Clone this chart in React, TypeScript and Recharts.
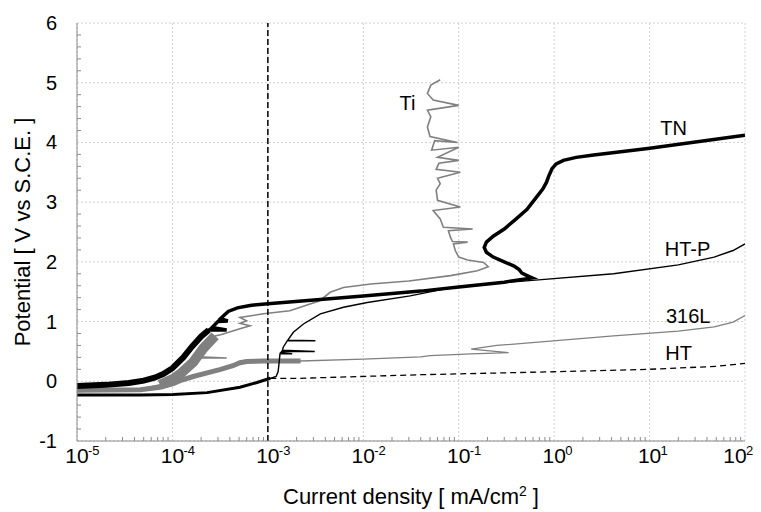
import { LineChart, Line, XAxis, YAxis, CartesianGrid, ReferenceLine, ReferenceDot } from "recharts";

// polarization curves, [current density mA/cm2, potential V vs SCE]
const tnCurve: [number, number][] = [
  [1e-5, -0.08], [2e-5, -0.06], [3.5e-5, -0.03], [5e-5, 0.01], [6.5e-5, 0.06], [8e-5, 0.12],
  [1e-4, 0.22], [1.3e-4, 0.4], [1.6e-4, 0.58], [2e-4, 0.75], [2.4e-4, 0.86], [3.7e-4, 0.86],
  [2.6e-4, 0.9], [3.0e-4, 1.0], [3.8e-4, 1.01], [3.2e-4, 1.05], [3.84e-4, 1.17], [4.8e-4, 1.23],
  [6.5e-4, 1.27], [1e-3, 1.3], [1e-2, 1.43], [0.04, 1.51], [0.1, 1.58], [0.3, 1.66], [0.59, 1.73],
  [0.52, 1.77], [0.46, 1.81], [0.43, 1.87], [0.38, 1.93], [0.3, 2.0], [0.23, 2.08], [0.195, 2.16],
  [0.185, 2.24], [0.195, 2.33], [0.23, 2.43], [0.3, 2.55], [0.4, 2.72], [0.52, 2.88], [0.65, 3.08],
  [0.76, 3.22], [0.83, 3.33], [0.88, 3.44], [0.95, 3.56], [1.05, 3.64], [1.25, 3.7], [1.7, 3.75],
  [2.6, 3.79], [9.6, 3.9], [100, 4.12],
];

const tiCurve: [number, number][] = [
  [1e-5, -0.15], [4.6e-5, -0.13], [7.4e-5, -0.06], [1.02e-4, 0.04], [1.2e-4, 0.12], [1.65e-4, 0.32],
  [1.8e-4, 0.39], [3.7e-4, 0.39], [1.85e-4, 0.41], [2.1e-4, 0.55], [2.8e-4, 0.76], [3.2e-4, 0.78],
  [5.1e-4, 0.88], [6.5e-4, 0.93], [5.1e-4, 0.97], [6.0e-4, 1.01], [5.1e-4, 1.07], [9e-4, 1.13],
  [1.7e-3, 1.18], [3.5e-3, 1.35], [4.5e-3, 1.49], [6.2e-3, 1.57], [0.012, 1.63], [0.03, 1.68],
  [0.082, 1.77], [0.157, 1.85], [0.204, 1.92], [0.182, 1.99], [0.124, 2.03], [0.1, 2.08],
  [0.092, 2.19], [0.088, 2.3], [0.124, 2.33], [0.086, 2.34], [0.082, 2.41], [0.078, 2.52],
  [0.14, 2.55], [0.069, 2.58], [0.064, 2.72], [0.054, 2.86], [0.104, 2.92], [0.06, 3.03],
  [0.058, 3.2], [0.064, 3.31], [0.06, 3.4], [0.104, 3.5], [0.058, 3.55], [0.062, 3.65], [0.1, 3.7],
  [0.06, 3.75], [0.1, 3.92], [0.052, 3.87], [0.056, 4.03], [0.097, 4.0], [0.05, 4.1], [0.047, 4.26],
  [0.051, 4.43], [0.047, 4.54], [0.1, 4.62], [0.054, 4.71], [0.047, 4.82], [0.051, 4.96], [0.064, 5.05],
];

const s316Curve: [number, number][] = [
  [1e-5, -0.15], [4.6e-5, -0.14], [7.4e-5, -0.1], [1.02e-4, -0.04], [1.2e-4, 0.01], [1.65e-4, 0.08],
  [2.31e-4, 0.14], [3.2e-4, 0.2], [4.3e-4, 0.26], [5.1e-4, 0.31], [6e-4, 0.33], [9e-4, 0.34],
  [2.2e-3, 0.34], [0.01, 0.37], [0.04, 0.41], [0.05, 0.43], [0.135, 0.46], [0.333, 0.48],
  [0.135, 0.54], [0.25, 0.6], [4.2, 0.76], [20, 0.84], [47.5, 0.91], [75, 0.99], [100, 1.1],
];

const htpCurve: [number, number][] = [
  [1e-5, -0.23], [4.6e-5, -0.23], [1.02e-4, -0.22], [2.31e-4, -0.19], [5.1e-4, -0.1], [7.7e-4, -0.02],
  [1.06e-3, 0.05], [1.22e-3, 0.08], [1.28e-3, 0.16], [1.31e-3, 0.3], [1.34e-3, 0.46], [1.8e-3, 0.46],
  [1.36e-3, 0.48], [1.4e-3, 0.5], [3.1e-3, 0.5], [1.42e-3, 0.52], [1.45e-3, 0.57], [1.6e-3, 0.68],
  [3.15e-3, 0.68], [1.62e-3, 0.69], [1.85e-3, 0.82], [2.36e-3, 0.96], [3.55e-3, 1.13], [6.2e-3, 1.24],
  [0.011, 1.32], [0.031, 1.43], [0.064, 1.53], [0.1, 1.58], [0.28, 1.65], [0.59, 1.69], [4.2, 1.8],
  [20, 1.95], [47.5, 2.08], [75, 2.19], [100, 2.3],
];

const htCathodic: [number, number][] = [
  [1e-5, -0.23], [4.6e-5, -0.23], [1.02e-4, -0.22], [2.31e-4, -0.19], [5.1e-4, -0.1], [7.7e-4, -0.02],
  [1.06e-3, 0.05],
];
const htAnodic: [number, number][] = [
  [1.06e-3, 0.05], [2.2e-3, 0.05], [0.015, 0.09], [0.04, 0.11], [1, 0.16], [9.6, 0.2], [50, 0.25],
  [100, 0.3],
];

const xMajorTicks = [1e-5, 1e-4, 1e-3, 1e-2, 1e-1, 1, 10, 100];
const xTickExponents = ["-5", "-4", "-3", "-2", "-1", "0", "1", "2"];
const yMajorTicks = [-1, 0, 1, 2, 3, 4, 5, 6];
const yTickLabels = ["-1", "0", "1", "2", "3", "4", "5", "6"];

const seriesLabels = [
  { name: "Ti", x: 0.029, y: 4.66 },
  { name: "TN", x: 17.9, y: 4.25 },
  { name: "HT-P", x: 25, y: 2.22 },
  { name: "316L", x: 25.4, y: 1.1 },
  { name: "HT", x: 20.2, y: 0.48 },
];

const toRows = (pts: [number, number][]) => pts.map(([x, y]) => ({ x, y }));

// minor ticks: 2..9 per decade on the bottom, 5 even steps per decade on top, 0.2 V on the sides
const xMinorTicks: number[] = [];
const xTopTicks: number[] = [];
for (let d = -5; d < 2; d++) {
  for (let m = 2; m <= 9; m++) xMinorTicks.push(m * Math.pow(10, d));
  for (let j = 1; j < 5; j++) xTopTicks.push(Math.pow(10, d + j / 5));
}
const yMinorTicks: number[] = [];
for (let i = -5; i <= 30; i++) if (i % 5 !== 0) yMinorTicks.push(i / 5);

const FONT = "'Liberation Sans', Arial, sans-serif";
const FRAME = "#8c8c8c";
const GRAY = "#808080";

const BottomTick = (props: any) => {
  const { x, y, payload } = props;
  const idx = xMajorTicks.findIndex((t) => Math.abs(Math.log10(t) - Math.log10(payload.value)) < 1e-6);
  if (idx < 0) return <line x1={x} x2={x} y1={y} y2={y - 4} stroke={FRAME} />;
  // last label is pulled in so it stays inside the picture
  const cx = idx === xMajorTicks.length - 1 ? x - 10 : x;
  return (
    <g fontFamily={FONT} fill="#000">
      <text x={cx} y={y + 22} textAnchor="middle" fontSize={21}>10</text>
      <text x={cx + 11} y={y + 14} fontSize={13}>{xTickExponents[idx]}</text>
    </g>
  );
};

const LeftTick = (props: any) => {
  const { x, y, payload } = props;
  const idx = yMajorTicks.indexOf(payload.value);
  if (idx < 0) return <line x1={x} x2={x + 4} y1={y} y2={y} stroke={FRAME} />;
  return (
    <text x={x - 20} y={y + 7} textAnchor="end" fontSize={20} fontFamily={FONT} fill="#000">
      {yTickLabels[idx]}
    </text>
  );
};

const RightTick = (props: any) => <line x1={props.x} x2={props.x - 4} y1={props.y} y2={props.y} stroke={FRAME} />;
const TopTick = (props: any) => <line x1={props.x} x2={props.x} y1={props.y} y2={props.y + 4} stroke={FRAME} />;

const XTitle = (props: any) => {
  const { x, y, width } = props.viewBox;
  return (
    <text x={x + width / 2} y={y + 63} textAnchor="middle" fontSize={22} fontFamily={FONT} fill="#000">
      Current density [ mA/cm<tspan dy={-8} fontSize={14}>2</tspan>
      <tspan dy={8}> ]</tspan>
    </text>
  );
};

const YTitle = (props: any) => {
  const { x, y, height } = props.viewBox;
  const cx = x + 30;
  const cy = y + height / 2;
  return (
    <text x={cx} y={cy} transform={`rotate(-90 ${cx} ${cy})`} textAnchor="middle" fontSize={22} fontFamily={FONT} fill="#000">
      Potential [ V vs S.C.E. ]
    </text>
  );
};

export default function App() {
  const tn = toRows(tnCurve);
  const ti = toRows(tiCurve);
  const s316 = toRows(s316Curve);
  const htp = toRows(htpCurve);
  const htLow = toRows(htCathodic);
  const htHigh = toRows(htAnodic);

  return (
    <div style={{ position: "absolute", left: 0, top: 0, background: "#fff" }}>
      <LineChart width={761} height={512} margin={{ top: 23, right: 16, bottom: 0, left: 0 }}>
        <CartesianGrid
          verticalValues={xMajorTicks}
          horizontalValues={yMajorTicks}
          stroke="#cfcfcf"
          strokeDasharray="2 2"
        />
        <XAxis
          dataKey="x"
          type="number"
          scale="log"
          domain={[1e-5, 100]}
          allowDataOverflow
          ticks={[...xMajorTicks, ...xMinorTicks]}
          interval={0}
          tick={<BottomTick />}
          tickLine={false}
          tickSize={0}
          tickMargin={0}
          height={71}
          axisLine={{ stroke: FRAME }}
          label={XTitle}
        />
        <XAxis
          xAxisId="top"
          orientation="top"
          type="number"
          scale="log"
          domain={[1e-5, 100]}
          allowDataOverflow
          ticks={xTopTicks}
          interval={0}
          tick={<TopTick />}
          tickLine={false}
          tickSize={0}
          tickMargin={0}
          height={0}
          axisLine={{ stroke: FRAME }}
        />
        <YAxis
          type="number"
          domain={[-1, 6]}
          allowDataOverflow
          ticks={[...yMajorTicks, ...yMinorTicks]}
          interval={0}
          tick={<LeftTick />}
          tickLine={false}
          tickSize={0}
          tickMargin={0}
          width={77}
          axisLine={{ stroke: FRAME }}
          label={YTitle}
        />
        <YAxis
          yAxisId="right"
          orientation="right"
          type="number"
          domain={[-1, 6]}
          allowDataOverflow
          ticks={yMinorTicks}
          interval={0}
          tick={<RightTick />}
          tickLine={false}
          tickSize={0}
          tickMargin={0}
          width={0}
          axisLine={{ stroke: FRAME }}
        />

        {/* gray curves underneath */}
        <Line data={s316} dataKey="y" stroke={GRAY} strokeWidth={1.3} dot={false} activeDot={false} isAnimationActive={false} />
        <Line data={s316.slice(0, 13)} dataKey="y" stroke={GRAY} strokeWidth={5} dot={false} activeDot={false} isAnimationActive={false} />
        <Line data={ti} dataKey="y" stroke={GRAY} strokeWidth={1.6} dot={false} activeDot={false} isAnimationActive={false} />
        <Line data={[...ti.slice(2, 6), ...ti.slice(9, 11)]} dataKey="y" stroke={GRAY} strokeWidth={10} dot={false} activeDot={false} isAnimationActive={false} />

        <Line data={htHigh} dataKey="y" stroke="#000" strokeWidth={1.3} strokeDasharray="6 4" dot={false} activeDot={false} isAnimationActive={false} />
        <Line data={htLow} dataKey="y" stroke="#000" strokeWidth={3} dot={false} activeDot={false} isAnimationActive={false} />
        <Line data={htp} dataKey="y" stroke="#000" strokeWidth={1.4} dot={false} activeDot={false} isAnimationActive={false} />
        <Line data={tn} dataKey="y" stroke="#000" strokeWidth={3.5} dot={false} activeDot={false} isAnimationActive={false} />
        <Line data={tn.slice(0, 11)} dataKey="y" stroke="#000" strokeWidth={6} dot={false} activeDot={false} isAnimationActive={false} />

        <ReferenceLine x={1e-3} stroke="#000" strokeWidth={1.5} strokeDasharray="6 3" />

        {seriesLabels.map((l) => (
          <ReferenceDot
            key={l.name}
            x={l.x}
            y={l.y}
            r={0}
            shape={(p: any) => (
              <text x={p.cx} y={p.cy} dy="0.35em" textAnchor="middle" fontSize={20} fontFamily={FONT} fill="#000">
                {l.name}
              </text>
            )}
          />
        ))}
      </LineChart>
    </div>
  );
}
